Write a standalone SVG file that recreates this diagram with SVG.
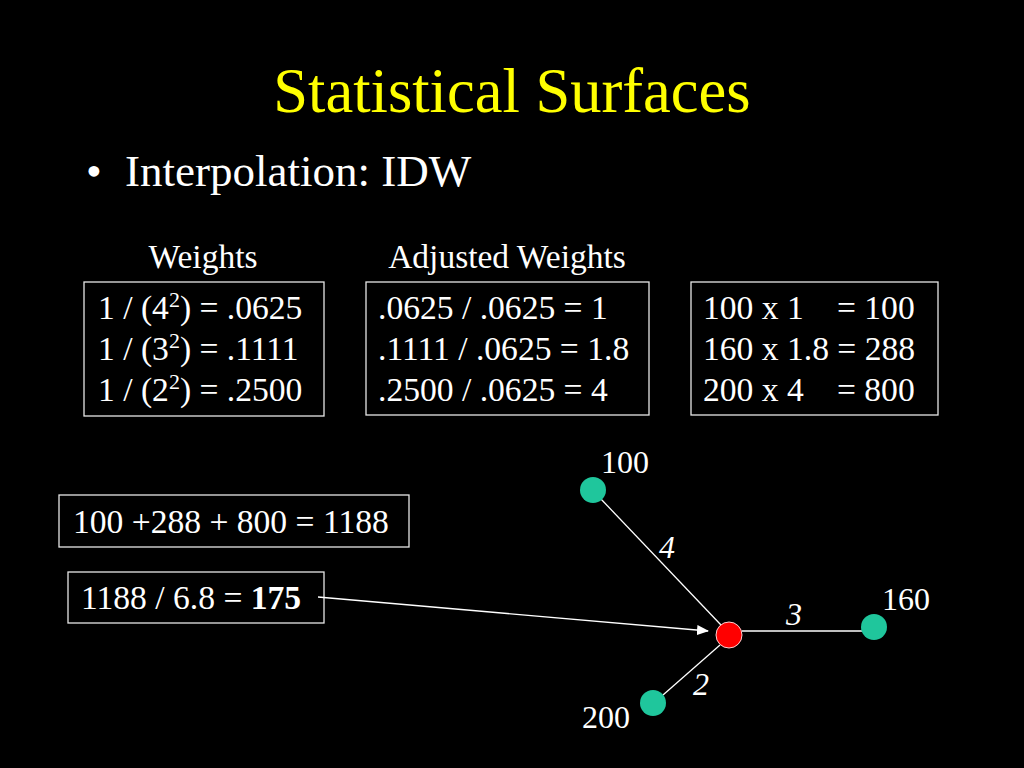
<svg xmlns="http://www.w3.org/2000/svg" width="1024" height="768" viewBox="0 0 1024 768">
<style>
text{font-family:"Liberation Serif","Times New Roman",serif;fill:#fff}
.t{font-size:33.6px}
.box{fill:none;stroke:#e6e6e6;stroke-width:1.3}
.lbl{font-size:32px}
.it{font-size:32px;font-style:italic}
.con{stroke:#fff;stroke-width:1.3;fill:none}
.g{fill:#1fc69c}
</style>
<defs>
<marker id="ah" markerWidth="12" markerHeight="10" refX="11" refY="5" orient="auto" markerUnits="userSpaceOnUse">
<path d="M0,0 L12,5 L0,10 Z" fill="#fff"/>
</marker>
</defs>
<rect width="1024" height="768" fill="#000"/>
<g id="title"><text x="512" y="112" text-anchor="middle" style="font-size:62.5px;fill:#ffff00">Statistical Surfaces</text></g>
<g id="bullet"><text x="86" y="186" style="font-size:45px">•</text><text x="125" y="186" style="font-size:45px">Interpolation: IDW</text></g>
<g id="headers">
<text x="203" y="268" text-anchor="middle" style="font-size:33.5px">Weights</text>
<text x="507" y="268" text-anchor="middle" style="font-size:33.5px">Adjusted Weights</text>
</g>
<g id="weights">
<rect class="box" x="84" y="282" width="240" height="134"/>
<text class="t" x="98" y="319">1 / (4<tspan dy="-12" style="font-size:22px">2</tspan><tspan dy="12">) = .0625</tspan></text>
<text class="t" x="98" y="360">1 / (3<tspan dy="-12" style="font-size:22px">2</tspan><tspan dy="12">) = .1111</tspan></text>
<text class="t" x="98" y="401">1 / (2<tspan dy="-12" style="font-size:22px">2</tspan><tspan dy="12">) = .2500</tspan></text>
</g>
<g id="adjusted">
<rect class="box" x="366" y="282" width="283" height="133"/>
<text class="t" x="378" y="319">.0625 / .0625 = 1</text>
<text class="t" x="378" y="360">.1111 / .0625 = 1.8</text>
<text class="t" x="378" y="401">.2500 / .0625 = 4</text>
</g>
<g id="products">
<rect class="box" x="691" y="282" width="247" height="133"/>
<text class="t" x="703" y="319">100 x 1</text><text class="t" x="837" y="319">= 100</text>
<text class="t" x="703" y="360">160 x 1.8 = 288</text>
<text class="t" x="703" y="401">200 x 4</text><text class="t" x="837" y="401">= 800</text>
</g>
<g id="sum">
<rect class="box" x="59" y="495" width="350" height="52"/>
<text class="t" x="73" y="533">100 +288 + 800 = 1188</text>
</g>
<g id="result">
<rect class="box" x="68" y="572" width="256" height="51"/>
<text class="t" x="81" y="609">1188 / 6.8 = <tspan font-weight="bold">175</tspan></text>
</g>
<g id="connectors">
<line class="con" x1="318" y1="597" x2="708" y2="631" marker-end="url(#ah)"/>
<line class="con" x1="600" y1="498" x2="721" y2="625"/>
<line class="con" x1="742" y1="631" x2="862" y2="631"/>
<line class="con" x1="663" y1="695" x2="720" y2="645"/>
</g>
<g id="p100"><circle class="g" cx="593" cy="490" r="13"/><text class="lbl" x="601" y="473">100</text></g>
<g id="p160"><circle class="g" cx="874" cy="627" r="13"/><text class="lbl" x="882" y="610">160</text></g>
<g id="p200"><circle class="g" cx="653" cy="703" r="13"/><text class="lbl" x="582" y="728">200</text></g>
<g id="target"><circle cx="729" cy="635" r="13" fill="#ff0000" stroke="#ffd0d0" stroke-width="1"/></g>
<g id="dists">
<text class="it" x="659" y="558">4</text>
<text class="it" x="786" y="625">3</text>
<text class="it" x="693" y="695">2</text>
</g>
</svg>
